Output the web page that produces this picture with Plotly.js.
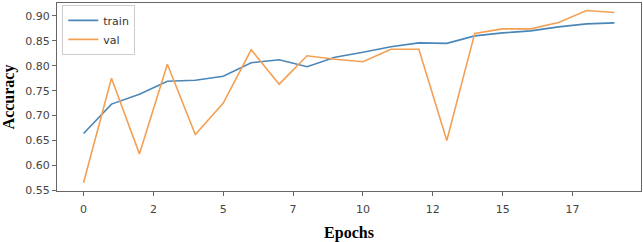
<!DOCTYPE html>
<html>
<head>
<meta charset="utf-8">
<script src="https://cdn.plot.ly/plotly-3.0.1.min.js"></script>
<style>html,body{margin:0;padding:0;background:#fff;}#chart{width:643px;height:242px;}</style>
</head>
<body>
<div id="chart"></div>
<script>
const epochs = [0,1,2,3,4,5,6,7,8,9,10,11,12,13,14,15,16,17,18,19];
const trainAcc = [0.664,0.723,0.743,0.769,0.771,0.779,0.806,0.812,0.798,0.817,0.827,0.838,0.846,0.845,0.860,0.866,0.870,0.878,0.884,0.886];
const valAcc = [0.565,0.775,0.623,0.803,0.662,0.725,0.832,0.763,0.820,0.813,0.808,0.833,0.833,0.650,0.865,0.874,0.874,0.887,0.911,0.907];
const xTickVals = [0,2.5,5,7.5,10,12.5,15,17.5];
const xTickText = ['0','2','5','7','10','12','15','17'];
const yTickVals = [0.55,0.60,0.65,0.70,0.75,0.80,0.85,0.90];
const yTickText = ['0.55','0.60','0.65','0.70','0.75','0.80','0.85','0.90'];

const traces = [
  {x: epochs, y: trainAcc, name: 'train', mode: 'lines', line: {color: '#4a86b8', width: 1.6}},
  {x: epochs, y: valAcc, name: 'val', mode: 'lines', line: {color: '#f3a055', width: 1.6}}
];
const tickFont = {family: 'DejaVu Sans, sans-serif', size: 11, color: '#444'};
const layout = {
  width: 643, height: 242,
  margin: {l: 57, r: 2, t: 3, b: 51},
  paper_bgcolor: '#fff', plot_bgcolor: '#fff',
  showlegend: true,
  legend: {x: 0.009, y: 0.99, xanchor: 'left', yanchor: 'top',
    bordercolor: '#cccccc', borderwidth: 1, bgcolor: 'rgba(255,255,255,0.9)',
    font: {family: 'DejaVu Sans, sans-serif', size: 11, color: '#333'}},
  xaxis: {
    range: [-0.95, 19.95], tickmode: 'array', tickvals: xTickVals, ticktext: xTickText,
    showgrid: false, zeroline: false, showline: true, mirror: true, linecolor: '#666', linewidth: 1,
    ticks: 'outside', ticklen: 4, tickcolor: '#666', tickfont: tickFont, ticklabelstandoff: 4,
    title: {text: 'Epochs', font: {family: 'Liberation Serif, serif', size: 16, color: '#000', weight: 'bold'}, standoff: 12}
  },
  yaxis: {
    range: [0.5485, 0.926], tickmode: 'array', tickvals: yTickVals, ticktext: yTickText,
    showgrid: false, zeroline: false, showline: true, mirror: true, linecolor: '#666', linewidth: 1,
    ticks: 'outside', ticklen: 4, tickcolor: '#666', tickfont: tickFont,
    title: {text: 'Accuracy', font: {family: 'Liberation Serif, serif', size: 16, color: '#000', weight: 'bold'}, standoff: 6}
  }
};
Plotly.newPlot('chart', traces, layout, {displayModeBar: false, staticPlot: true});
</script>
</body>
</html>
